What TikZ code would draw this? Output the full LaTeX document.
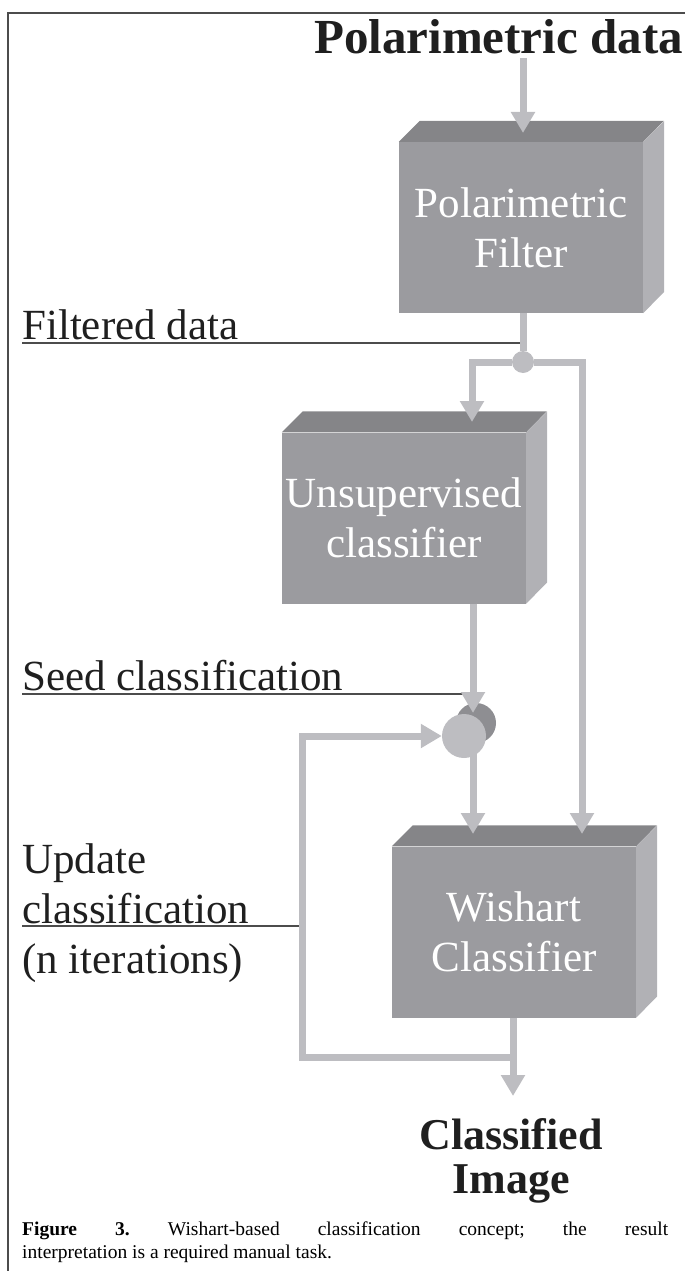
\documentclass[tikz,border=0pt]{standalone}
\usepackage{fontspec}
\setmainfont{Liberation Serif}
\usetikzlibrary{positioning,arrows.meta}

\definecolor{face}{RGB}{155,155,159}
\definecolor{facetop}{RGB}{133,133,136}
\definecolor{faceside}{RGB}{177,177,181}
\definecolor{wirecol}{RGB}{189,189,193}
\definecolor{knotcol}{RGB}{142,142,146}

\tikzset{
  block/.style={fill=face, text=white, inner sep=0pt,
    minimum width=244pt, minimum height=171pt,
    align=center, font=\fontsize{43}{50}\selectfont},
  wire/.style={draw=wirecol, line width=7pt},
  label/.style={inner sep=0pt, text=black!88, font=\fontsize{43}{50}\selectfont},
  tick/.style={draw=black!70, line width=1.4pt},
  junction/.style={circle, fill=wirecol, minimum size=22pt, inner sep=0pt},
  merge/.style={circle, fill=wirecol, minimum size=44pt, inner sep=0pt},
  knot/.style={circle, fill=knotcol, minimum size=40pt, inner sep=0pt},
}

\begin{document}
\begin{tikzpicture}[x=1pt, y=-1pt, >={Triangle[width=23pt,length=21pt]}]
  \useasboundingbox (0,0) rectangle (685,1271);
  \draw[black!70, line width=1.6pt] (8,1271) -- (8,13) -- (685,13);

  % the three processing blocks
  \node[block] (filter) at (521,227.5) {Polarimetric\\Filter};
  \node[block] (unsup) at (404,518) {Unsupervised\\classifier};
  \node[block] (wishart) at (514,932) {Wishart\\Classifier};
  \foreach \b in {filter,unsup,wishart}{
    \fill[facetop] (\b.north west) -- ++(21,-21) -- ++(244,0) -- (\b.north east) -- cycle;
    \fill[faceside] (\b.north east) -- ++(21,-21) -- ++(0,171) -- (\b.south east) -- cycle;
  }

  % texts
  \node[label, anchor=base east, font=\fontsize{49}{49}\selectfont\bfseries] (data) at (683,54) {Polarimetric data};
  \node[label, anchor=base west] (fdata) at (22,339) {Filtered data};
  \node[label, anchor=base west] (seed) at (22,690) {Seed classification};
  \node[label, anchor=north west, align=left] (update) at (22,843) {Update\\classification\\(n iterations)};
  \node[label, anchor=north, align=center, font=\fontsize{44}{44}\selectfont\bfseries] (result) at (511,1118) {Classified\\Image};

  \coordinate (src) at (523,58);
  \coordinate (filter-in) at (523,133);
  \coordinate (unsup-in) at (472,422);
  \coordinate (merge-in) at (473,713);
  \coordinate (merge-c) at (473,736);
  \coordinate (wishart-in) at (473,834);
  \coordinate (wishart-in2) at (582,834);
  \coordinate (tap) at (513,1057);
  \coordinate (back) at (302,736);
  \coordinate (out) at (513,1096);

  % underlines to the wires
  \draw[tick] ([yshift=-4pt]fdata.base west) -- ([yshift=-4pt]fdata.base west -| src);
  \draw[tick] ([yshift=-4pt]seed.base west) -- ([yshift=-4pt]seed.base west -| merge-in);
  \draw[tick] (22,926) -- (back |- 0,926);

  % data flow
  \draw[wire,->] (src) -- (filter-in);
  \node[junction] (split) at (523,362) {};
  \draw[wire] (filter.south -| split) -- (split);
  \draw[wire,->] (split) -| (unsup-in);
  \draw[wire,->] (split) -| (wishart-in2);
  \draw[wire,->] (merge-c) -- (wishart-in);

  \node[knot] (seedback) at (476,723) {};
  \node[merge] (merge) at (464,736) {};
  \draw[wire,->] (unsup.south -| merge-in) -- (merge-in);

  \draw[wire,->] (wishart.south -| out) -- (out);
  \draw[wire,->] (tap) -| (back) -- (merge.west);

  % caption
  \node[anchor=north west, inner sep=0pt, text width=646pt, align=justify,
    font=\fontsize{19.5}{23}\selectfont\frenchspacing] (caption) at (22,1222)
    {\textbf{Figure 3.} Wishart-based classification concept; the result\linebreak
     interpretation is a required manual task.};
\end{tikzpicture}
\end{document}
